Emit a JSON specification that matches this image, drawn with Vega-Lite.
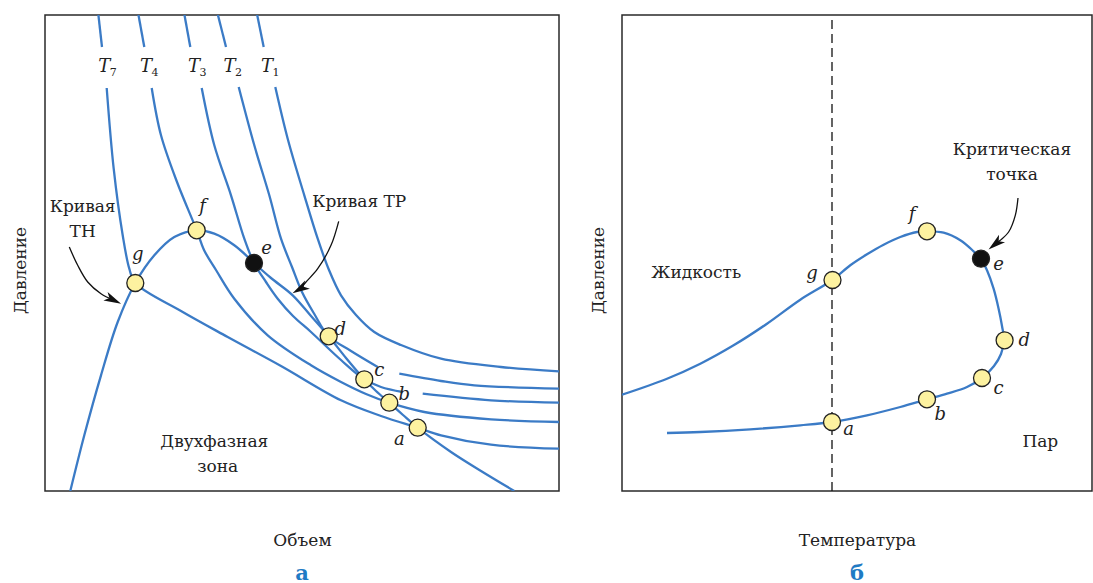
{
  "$schema": "https://vega.github.io/schema/vega-lite/v6.json",
  "padding": {"left": 10, "top": 11, "right": 0, "bottom": 0},
  "spacing": 28,
  "config": {
    "view": {"stroke": "#2a2a2a", "strokeWidth": 1.5},
    "font": "DejaVu Serif",
    "text": {"font": "DejaVu Serif", "fontSize": 17, "color": "#222"},
    "axis": {"domain": false, "ticks": false, "labels": false, "grid": false, "titleFont": "DejaVu Serif", "titleFontSize": 17, "titleFontWeight": "normal", "titleColor": "#222"}
  },
  "datasets": {
    "L_curves": [
      {"id": "TH", "o": 1, "x": 25.3, "y": 0}, {"id": "TH", "o": 2, "x": 39.3, "y": 55.7}, {"id": "TH", "o": 3, "x": 56, "y": 115.7}, {"id": "TH", "o": 4, "x": 72.7, "y": 169}, {"id": "TH", "o": 5, "x": 90.3, "y": 208}, {"id": "TH", "o": 6, "x": 109.3, "y": 235.7}, {"id": "TH", "o": 7, "x": 129.3, "y": 254}, {"id": "TH", "o": 8, "x": 151.7, "y": 260.7}, {"id": "TH", "o": 9, "x": 169.3, "y": 257.3}, {"id": "TH", "o": 10, "x": 189.3, "y": 245.7}, {"id": "TH", "o": 11, "x": 209, "y": 228},
      {"id": "TP", "o": 1, "x": 209, "y": 228}, {"id": "TP", "o": 2, "x": 226, "y": 213}, {"id": "TP", "o": 3, "x": 247.7, "y": 195.7}, {"id": "TP", "o": 4, "x": 266, "y": 175}, {"id": "TP", "o": 5, "x": 283.7, "y": 154.7}, {"id": "TP", "o": 6, "x": 301, "y": 133}, {"id": "TP", "o": 7, "x": 319.3, "y": 111.7}, {"id": "TP", "o": 8, "x": 331, "y": 100}, {"id": "TP", "o": 9, "x": 344.3, "y": 88.3}, {"id": "TP", "o": 10, "x": 358, "y": 76}, {"id": "TP", "o": 11, "x": 372.7, "y": 63.3}, {"id": "TP", "o": 12, "x": 406, "y": 39}, {"id": "TP", "o": 13, "x": 436, "y": 20}, {"id": "TP", "o": 14, "x": 469.3, "y": 0},
      {"id": "T7a", "o": 1, "x": 53.3, "y": 477}, {"id": "T7a", "o": 2, "x": 57, "y": 444},
      {"id": "T7b", "o": 1, "x": 61.7, "y": 403}, {"id": "T7b", "o": 2, "x": 68.7, "y": 322.3}, {"id": "T7b", "o": 3, "x": 77.7, "y": 255.7}, {"id": "T7b", "o": 4, "x": 84.3, "y": 222.3}, {"id": "T7b", "o": 5, "x": 90.3, "y": 208}, {"id": "T7b", "o": 6, "x": 136, "y": 180}, {"id": "T7b", "o": 7, "x": 182.7, "y": 154}, {"id": "T7b", "o": 8, "x": 236, "y": 125}, {"id": "T7b", "o": 9, "x": 296, "y": 90.7}, {"id": "T7b", "o": 10, "x": 336, "y": 75}, {"id": "T7b", "o": 11, "x": 372.7, "y": 63.3}, {"id": "T7b", "o": 12, "x": 396, "y": 55.7}, {"id": "T7b", "o": 13, "x": 446, "y": 46.3}, {"id": "T7b", "o": 14, "x": 514, "y": 42.3},
      {"id": "T4a", "o": 1, "x": 93.3, "y": 477}, {"id": "T4a", "o": 2, "x": 99.3, "y": 444},
      {"id": "T4b", "o": 1, "x": 106.7, "y": 403}, {"id": "T4b", "o": 2, "x": 116, "y": 355.7}, {"id": "T4b", "o": 3, "x": 132, "y": 309}, {"id": "T4b", "o": 4, "x": 151.7, "y": 260.7}, {"id": "T4b", "o": 5, "x": 159, "y": 241}, {"id": "T4b", "o": 6, "x": 171, "y": 221}, {"id": "T4b", "o": 7, "x": 189.3, "y": 192.3}, {"id": "T4b", "o": 8, "x": 222.7, "y": 155.7}, {"id": "T4b", "o": 9, "x": 266, "y": 125.7}, {"id": "T4b", "o": 10, "x": 296, "y": 109}, {"id": "T4b", "o": 11, "x": 321, "y": 97}, {"id": "T4b", "o": 12, "x": 344.3, "y": 88.3}, {"id": "T4b", "o": 13, "x": 379.3, "y": 79}, {"id": "T4b", "o": 14, "x": 446, "y": 71.7}, {"id": "T4b", "o": 15, "x": 514, "y": 69},
      {"id": "T3a", "o": 1, "x": 139.3, "y": 477}, {"id": "T3a", "o": 2, "x": 145.3, "y": 444},
      {"id": "T3b", "o": 1, "x": 156.7, "y": 403}, {"id": "T3b", "o": 2, "x": 169.3, "y": 345.7}, {"id": "T3b", "o": 3, "x": 186, "y": 295.7}, {"id": "T3b", "o": 4, "x": 199.3, "y": 252.3}, {"id": "T3b", "o": 5, "x": 209, "y": 228}, {"id": "T3b", "o": 6, "x": 221, "y": 209}, {"id": "T3b", "o": 7, "x": 232.7, "y": 192.3}, {"id": "T3b", "o": 8, "x": 248, "y": 175}, {"id": "T3b", "o": 9, "x": 266, "y": 159}, {"id": "T3b", "o": 10, "x": 296, "y": 131}, {"id": "T3b", "o": 11, "x": 319.3, "y": 111.7}, {"id": "T3b", "o": 12, "x": 336, "y": 104}, {"id": "T3b", "o": 13, "x": 357.7, "y": 99},
      {"id": "T3c", "o": 1, "x": 377.7, "y": 97.3}, {"id": "T3c", "o": 2, "x": 446, "y": 90.7}, {"id": "T3c", "o": 3, "x": 514, "y": 88.3},
      {"id": "T2a", "o": 1, "x": 172.7, "y": 477}, {"id": "T2a", "o": 2, "x": 181, "y": 444},
      {"id": "T2b", "o": 1, "x": 193.7, "y": 404}, {"id": "T2b", "o": 2, "x": 209.3, "y": 345.7}, {"id": "T2b", "o": 3, "x": 224.3, "y": 295.7}, {"id": "T2b", "o": 4, "x": 236, "y": 252.3}, {"id": "T2b", "o": 5, "x": 247, "y": 224}, {"id": "T2b", "o": 6, "x": 257, "y": 199}, {"id": "T2b", "o": 7, "x": 269.3, "y": 177}, {"id": "T2b", "o": 8, "x": 283.7, "y": 154.7}, {"id": "T2b", "o": 9, "x": 306, "y": 140}, {"id": "T2b", "o": 10, "x": 332.7, "y": 124},
      {"id": "T2c", "o": 1, "x": 354.3, "y": 117.3}, {"id": "T2c", "o": 2, "x": 396, "y": 110}, {"id": "T2c", "o": 3, "x": 429.3, "y": 105.7}, {"id": "T2c", "o": 4, "x": 514, "y": 102.3},
      {"id": "T1a", "o": 1, "x": 212, "y": 477}, {"id": "T1a", "o": 2, "x": 218.7, "y": 444},
      {"id": "T1b", "o": 1, "x": 230.3, "y": 404}, {"id": "T1b", "o": 2, "x": 242.7, "y": 352.3}, {"id": "T1b", "o": 3, "x": 259.3, "y": 295.7}, {"id": "T1b", "o": 4, "x": 272.7, "y": 252.3}, {"id": "T1b", "o": 5, "x": 284, "y": 221}, {"id": "T1b", "o": 6, "x": 296, "y": 195.7}, {"id": "T1b", "o": 7, "x": 311, "y": 176}, {"id": "T1b", "o": 8, "x": 329.3, "y": 159}, {"id": "T1b", "o": 9, "x": 356, "y": 146}, {"id": "T1b", "o": 10, "x": 396, "y": 132.3}, {"id": "T1b", "o": 11, "x": 456, "y": 124}, {"id": "T1b", "o": 12, "x": 514, "y": 119.7}
    ],
    "L_pts": [
      {"k": "a", "x": 372.7, "y": 63.3}, {"k": "b", "x": 344.3, "y": 88.3}, {"k": "c", "x": 319.3, "y": 111.7}, {"k": "d", "x": 283.7, "y": 154.7}, {"k": "e", "x": 209, "y": 228}, {"k": "f", "x": 151.7, "y": 260.7}, {"k": "g", "x": 90.3, "y": 208}
    ],
    "L_lbl": [
      {"t": "g", "x": 92.7, "y": 235.7}, {"t": "f", "x": 157.7, "y": 284}, {"t": "e", "x": 221.7, "y": 242.3}, {"t": "d", "x": 295.3, "y": 160.7}, {"t": "c", "x": 334.3, "y": 119.7}, {"t": "b", "x": 359.3, "y": 95.7}, {"t": "a", "x": 354.3, "y": 50.7}
    ],
    "L_txt": [
      {"t": "Кривая", "x": 37.7, "y": 284}, {"t": "ТН", "x": 37.7, "y": 259}, {"t": "Кривая ТР", "x": 314.3, "y": 289}, {"t": "Двухфазная", "x": 169.3, "y": 49}, {"t": "зона", "x": 172.7, "y": 24}
    ],
    "L_T": [
      {"n": "7", "x": 59.3, "y": 424}, {"n": "4", "x": 101, "y": 424}, {"n": "3", "x": 149, "y": 424}, {"n": "2", "x": 184.5, "y": 424}, {"n": "1", "x": 222, "y": 424}
    ],
    "L_arrow": [
      {"id": "TH", "o": 1, "x": 24.3, "y": 244}, {"id": "TH", "o": 2, "x": 32.7, "y": 225.7}, {"id": "TH", "o": 3, "x": 42.7, "y": 209}, {"id": "TH", "o": 4, "x": 56, "y": 197.3}, {"id": "TH", "o": 5, "x": 68.3, "y": 191},
      {"id": "TP", "o": 1, "x": 293.7, "y": 269.7}, {"id": "TP", "o": 2, "x": 286, "y": 245.7}, {"id": "TP", "o": 3, "x": 272.7, "y": 222.3}, {"id": "TP", "o": 4, "x": 261, "y": 209}, {"id": "TP", "o": 5, "x": 255, "y": 202}
    ],
    "R_curve": [
      {"o": 1, "x": 0, "y": 96.3}, {"o": 2, "x": 45, "y": 112.3}, {"o": 3, "x": 78.3, "y": 127.3}, {"o": 4, "x": 111.6, "y": 145.7}, {"o": 5, "x": 145, "y": 167.3}, {"o": 6, "x": 178.3, "y": 191.3}, {"o": 7, "x": 210, "y": 210.7}, {"o": 8, "x": 228.3, "y": 225.7}, {"o": 9, "x": 245, "y": 236.7}, {"o": 10, "x": 261.6, "y": 246.3}, {"o": 11, "x": 278.3, "y": 254}, {"o": 12, "x": 295, "y": 259}, {"o": 13, "x": 305, "y": 259.7}, {"o": 14, "x": 321.6, "y": 258.3}, {"o": 15, "x": 338.3, "y": 250.7}, {"o": 16, "x": 351.6, "y": 239.7}, {"o": 17, "x": 359, "y": 232.3}, {"o": 18, "x": 365, "y": 220.7}, {"o": 19, "x": 371.6, "y": 202.3}, {"o": 20, "x": 376.6, "y": 182.3}, {"o": 21, "x": 380, "y": 165}, {"o": 22, "x": 382, "y": 151}, {"o": 23, "x": 379, "y": 137}, {"o": 24, "x": 372, "y": 125}, {"o": 25, "x": 360, "y": 113}, {"o": 26, "x": 345, "y": 104}, {"o": 27, "x": 325, "y": 97.3}, {"o": 28, "x": 305, "y": 91.7}, {"o": 29, "x": 278.3, "y": 84}, {"o": 30, "x": 245, "y": 75.7}, {"o": 31, "x": 210, "y": 69}, {"o": 32, "x": 178.3, "y": 65.7}, {"o": 33, "x": 128.3, "y": 61.7}, {"o": 34, "x": 78.3, "y": 59}, {"o": 35, "x": 45, "y": 58}
    ],
    "R_dash": [{"x": 210, "y": 0}, {"x": 210, "y": 476}],
    "R_ticks": [
      {"n": "7", "x": 210}, {"n": "4", "x": 305}, {"n": "3", "x": 360}, {"n": "2", "x": 386.6}, {"n": "1", "x": 446.6}
    ],
    "R_pts": [
      {"k": "a", "x": 210, "y": 69}, {"k": "b", "x": 305, "y": 91.7}, {"k": "c", "x": 360, "y": 113}, {"k": "d", "x": 382.6, "y": 150.7}, {"k": "e", "x": 359, "y": 232.3}, {"k": "f", "x": 305, "y": 259.7}, {"k": "g", "x": 210.5, "y": 211}
    ],
    "R_lbl": [
      {"t": "a", "x": 226.6, "y": 60.7}, {"t": "b", "x": 318.3, "y": 75.7}, {"t": "c", "x": 376.6, "y": 102.3}, {"t": "d", "x": 402.3, "y": 149.7}, {"t": "e", "x": 376.6, "y": 225.7}, {"t": "f", "x": 290, "y": 275.7}, {"t": "g", "x": 190, "y": 217.3}
    ],
    "R_txt": [
      {"t": "Жидкость", "x": 74.3, "y": 218.3}, {"t": "Пар", "x": 418.3, "y": 49}, {"t": "Критическая", "x": 390, "y": 340.7}, {"t": "точка", "x": 390, "y": 315.7}
    ],
    "R_arrow": [
      {"o": 1, "x": 396, "y": 293}, {"o": 2, "x": 393.3, "y": 275.7}, {"o": 3, "x": 386.6, "y": 259}, {"o": 4, "x": 378.3, "y": 250.7}, {"o": 5, "x": 373.3, "y": 247}
    ]
  },
  "hconcat": [
    {
      "width": 514,
      "height": 476,
      "title": {"text": "а", "orient": "bottom", "anchor": "middle", "font": "DejaVu Serif", "fontSize": 21, "fontWeight": "bold", "color": "#1f7bc4", "offset": 15},
      "encoding": {
        "x": {"field": "x", "type": "quantitative", "scale": {"domain": [0, 514], "nice": false, "zero": false}, "axis": {"title": "Объем", "titlePadding": 41}},
        "y": {"field": "y", "type": "quantitative", "scale": {"domain": [0, 476], "nice": false, "zero": false}, "axis": {"title": "Давление", "titleAngle": -90, "titleBaseline": "middle", "titleX": -25, "titleY": 255}}
      },
      "layer": [
        {"data": {"name": "L_curves"}, "mark": {"type": "line", "interpolate": "catmull-rom", "color": "#3b7bc6", "strokeWidth": 2.3, "clip": true}, "encoding": {"detail": {"field": "id"}, "order": {"field": "o", "type": "quantitative"}}},
        {"data": {"name": "L_arrow"}, "mark": {"type": "line", "interpolate": "catmull-rom", "color": "#111", "strokeWidth": 1.3}, "encoding": {"detail": {"field": "id"}, "order": {"field": "o", "type": "quantitative"}}},
        {"data": {"name": "L_arrow"}, "transform": [{"filter": "datum.id === 'TH' && datum.o === 5"}], "mark": {"type": "point", "shape": "M1,0L-1,-0.55L-0.5,0L-1,0.55Z", "size": 300, "angle": 26, "filled": true, "color": "#111", "opacity": 1}},
        {"data": {"name": "L_arrow"}, "transform": [{"filter": "datum.id === 'TP' && datum.o === 5"}], "mark": {"type": "point", "shape": "M1,0L-1,-0.55L-0.5,0L-1,0.55Z", "size": 300, "angle": 150, "filled": true, "color": "#111", "opacity": 1}},
        {"data": {"name": "L_pts"}, "mark": {"type": "point", "shape": "circle", "filled": true, "size": 289, "stroke": "#222", "strokeWidth": 1.3, "opacity": 1}, "encoding": {"fill": {"condition": {"test": "datum.k === 'e'", "value": "#111"}, "value": "#fdf2a0"}}},
        {"data": {"name": "L_lbl"}, "mark": {"type": "text", "fontStyle": "italic", "fontSize": 18}, "encoding": {"text": {"field": "t"}}},
        {"data": {"name": "L_txt"}, "mark": {"type": "text", "fontSize": 17}, "encoding": {"text": {"field": "t"}}},
        {"data": {"name": "L_T"}, "mark": {"type": "text", "fontStyle": "italic", "fontSize": 18, "text": "T"}},
        {"data": {"name": "L_T"}, "mark": {"type": "text", "fontSize": 11, "dx": 9, "dy": 6}, "encoding": {"text": {"field": "n"}}}
      ]
    },
    {
      "width": 470,
      "height": 476,
      "title": {"text": "б", "orient": "bottom", "anchor": "middle", "font": "DejaVu Serif", "fontSize": 21, "fontWeight": "bold", "color": "#1f7bc4", "offset": 15},
      "encoding": {
        "x": {"field": "x", "type": "quantitative", "scale": {"domain": [0, 470], "nice": false, "zero": false}, "axis": {"title": "Температура", "titlePadding": 41}},
        "y": {"field": "y", "type": "quantitative", "scale": {"domain": [0, 476], "nice": false, "zero": false}, "axis": {"title": "Давление", "titleAngle": -90, "titleBaseline": "middle", "titleX": -24, "titleY": 255}}
      },
      "layer": [
        {"data": {"name": "R_dash"}, "mark": {"type": "line", "color": "#111", "strokeWidth": 1.3, "strokeDash": [9, 5]}, "encoding": {"order": {"field": "y", "type": "quantitative"}}},
        {"data": {"name": "R_ticks"}, "mark": {"type": "rule", "color": "#111", "strokeWidth": 1.3}, "encoding": {"y": {"datum": 0}, "y2": {"datum": 11}}},
        {"data": {"name": "R_ticks"}, "mark": {"type": "text", "fontStyle": "italic", "fontSize": 18, "text": "T", "dx": -2}, "encoding": {"y": {"datum": -22}}},
        {"data": {"name": "R_ticks"}, "mark": {"type": "text", "fontSize": 11, "dx": 7, "dy": 6}, "encoding": {"y": {"datum": -22}, "text": {"field": "n"}}},
        {"data": {"name": "R_curve"}, "mark": {"type": "line", "interpolate": "catmull-rom", "color": "#3b7bc6", "strokeWidth": 2.3, "clip": true}, "encoding": {"order": {"field": "o", "type": "quantitative"}}},
        {"data": {"name": "R_arrow"}, "mark": {"type": "line", "interpolate": "catmull-rom", "color": "#111", "strokeWidth": 1.3}, "encoding": {"order": {"field": "o", "type": "quantitative"}}},
        {"data": {"name": "R_arrow"}, "transform": [{"filter": "datum.o === 5"}], "mark": {"type": "point", "shape": "M1,0L-1,-0.55L-0.5,0L-1,0.55Z", "size": 300, "angle": 141, "filled": true, "color": "#111", "opacity": 1}},
        {"data": {"name": "R_pts"}, "mark": {"type": "point", "shape": "circle", "filled": true, "size": 289, "stroke": "#222", "strokeWidth": 1.3, "opacity": 1}, "encoding": {"fill": {"condition": {"test": "datum.k === 'e'", "value": "#111"}, "value": "#fdf2a0"}}},
        {"data": {"name": "R_lbl"}, "mark": {"type": "text", "fontStyle": "italic", "fontSize": 18}, "encoding": {"text": {"field": "t"}}},
        {"data": {"name": "R_txt"}, "mark": {"type": "text", "fontSize": 17}, "encoding": {"text": {"field": "t"}}}
      ]
    }
  ]
}
